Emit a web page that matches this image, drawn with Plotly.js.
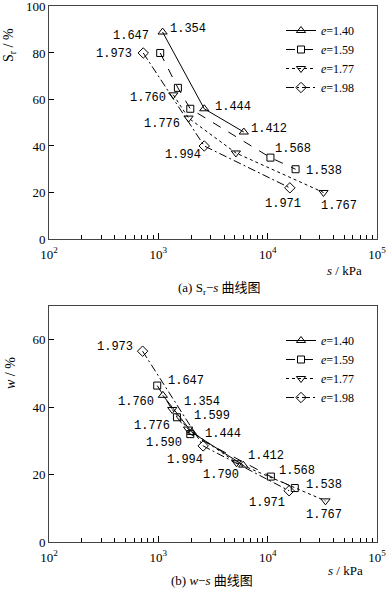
<!DOCTYPE html>
<html>
<head>
<meta charset="utf-8">
<script src="https://cdn.plot.ly/plotly-3.0.1.min.js"></script>
<style>html,body{margin:0;padding:0;background:#fff;}#chart{width:389px;height:592px;}</style>
</head>
<body>
<div id="chart"></div>
<script>
// ---------- data (a) Sr - s ----------
var seriesNames = ['<i>e</i>=1.40', '<i>e</i>=1.59', '<i>e</i>=1.77', '<i>e</i>=1.98'];

var sA_140 = [1094, 2630, 6050];
var Sr_140 = [89, 56, 46];
var sA_159 = [1040, 1510, 1960, 10600, 18000];
var Sr_159 = [80, 65, 56, 35, 30];
var sA_177 = [1370, 1890, 5120, 32400];
var Sr_177 = [62, 52, 37, 20];
var sA_198 = [728, 2630, 15950];
var Sr_198 = [80, 40, 22];

var labA_140 = ['1.354', '1.444', '1.412'];
var labA_159 = ['1.647', '', '', '1.568', '1.538'];
var labA_177 = ['1.760', '1.776', '', '1.767'];
var labA_198 = ['1.973', '1.994', '1.971'];

// ---------- data (b) w - s ----------
var sB_140 = [1100, 2030, 5970];
var w_140 = [43.5, 32.5, 22.8];
var sB_159 = [977, 1480, 1960, 10700, 17700];
var w_159 = [46.4, 37.0, 32.0, 19.4, 16.0];
var sB_177 = [1340, 1870, 5200, 33800];
var w_177 = [39.3, 33.5, 23.5, 12.2];
var sB_198 = [718, 2570, 15700];
var w_198 = [56.6, 28.5, 15.2];

var labB_140 = ['1.354', '1.444', '1.412'];
var labB_159 = ['1.647', '1.599', '1.590', '1.568', '1.538'];
var labB_177 = ['1.760', '1.776', '1.790', '1.767'];
var labB_198 = ['1.973', '1.994', '1.971'];

// tick labels
var xTickVals = [100, 1000, 10000, 100000];
var xTickText = ['10<sup>2</sup>', '10<sup>3</sup>', '10<sup>4</sup>', '10<sup>5</sup>'];
var yTickValsA = [0, 20, 40, 60, 80, 100];
var yTickValsB = [0, 20, 40, 60];

// ---------- label placement (pixels) ----------
// [xshift, yshift, xanchor]
var posA_140 = [[5, 3, 'left'], [9, 2, 'left'], [5, 3, 'left']];
var posA_159 = [[-9, 17, 'right'], null, null, [3, 9, 'left'], [8, -2, 'left']];
var posA_177 = [[-5, -3, 'right'], [-7, -6, 'right'], null, [16, -14, 'center']];
var posA_198 = [[-9, -1, 'right'], [-1, -9, 'right'], [-7, -16, 'center']];

var posB_140 = [[19, -7, 'left'], [11, -2, 'left'], [3, 9, 'left']];
var posB_159 = [[9, 5, 'left'], [15, 1, 'left'], [-6, -9, 'right'], [6, 6, 'left'], [9, 3, 'left']];
var posB_177 = [[-16, 8, 'right'], [-16, 3, 'right'], [4, -12, 'right'], [-1, -14, 'center']];
var posB_198 = [[-8, 4, 'right'], [2, -14, 'right'], [-2, -12, 'right']];

// ---------- styles ----------
var dashes = ['solid', 'dash', 'dot', '8px,3px,2px,3px'];
var symbols = ['triangle-up-open', 'square-open', 'triangle-down-open', 'diamond-open'];
var msizes = [8, 7, 8, 8];
var numFont = {family: 'Liberation Mono, monospace', size: 12, color: '#000'};

function mk(xs, ys, i, xa, ya, lg) {
  return {
    x: xs, y: ys, type: 'scatter', mode: 'lines+markers',
    name: seriesNames[i], xaxis: xa, yaxis: ya, legend: lg,
    line: {color: '#000', width: 1, dash: dashes[i]},
    marker: {symbol: symbols[i], size: msizes[i], color: '#000', line: {color: '#000', width: 1}}
  };
}

var traces = [
  mk(sA_140, Sr_140, 0, 'x', 'y', 'legend'),
  mk(sA_159, Sr_159, 1, 'x', 'y', 'legend'),
  mk(sA_177, Sr_177, 2, 'x', 'y', 'legend'),
  mk(sA_198, Sr_198, 3, 'x', 'y', 'legend'),
  mk(sB_140, w_140, 0, 'x2', 'y2', 'legend2'),
  mk(sB_159, w_159, 1, 'x2', 'y2', 'legend2'),
  mk(sB_177, w_177, 2, 'x2', 'y2', 'legend2'),
  mk(sB_198, w_198, 3, 'x2', 'y2', 'legend2')
];

var annotations = [];
function addLabels(xs, ys, labs, pos, xr, yr) {
  for (var k = 0; k < xs.length; k++) {
    if (!labs[k] || !pos[k]) continue;
    annotations.push({
      x: Math.log10(xs[k]), y: ys[k], xref: xr, yref: yr, text: labs[k],
      showarrow: false, xanchor: pos[k][2], yanchor: 'middle',
      xshift: pos[k][0], yshift: pos[k][1], font: numFont
    });
  }
}
addLabels(sA_140, Sr_140, labA_140, posA_140, 'x', 'y');
addLabels(sA_159, Sr_159, labA_159, posA_159, 'x', 'y');
addLabels(sA_177, Sr_177, labA_177, posA_177, 'x', 'y');
addLabels(sA_198, Sr_198, labA_198, posA_198, 'x', 'y');
addLabels(sB_140, w_140, labB_140, posB_140, 'x2', 'y2');
addLabels(sB_159, w_159, labB_159, posB_159, 'x2', 'y2');
addLabels(sB_177, w_177, labB_177, posB_177, 'x2', 'y2');
addLabels(sB_198, w_198, labB_198, posB_198, 'x2', 'y2');

var serif = 'Liberation Serif, DejaVu Serif, serif';
var cjk = 'Liberation Serif, Noto Sans CJK SC, serif';

// axis titles and captions
annotations.push(
  {xref: 'paper', yref: 'paper', x: 10 / 389, y: 1 - 45 / 592, text: 'S<sub>r</sub> / %', textangle: -90,
   showarrow: false, xanchor: 'center', yanchor: 'middle', font: {family: serif, size: 14, color: '#000'}},
  {xref: 'paper', yref: 'paper', x: 10 / 389, y: 1 - 373 / 592, text: '<i>w</i> / %', textangle: -90,
   showarrow: false, xanchor: 'center', yanchor: 'middle', font: {family: serif, size: 14, color: '#000'}},
  {xref: 'paper', yref: 'paper', x: 344 / 389, y: 1 - 270 / 592, text: '<i>s</i> / kPa',
   showarrow: false, xanchor: 'center', yanchor: 'middle', font: {family: serif, size: 13, color: '#000'}},
  {xref: 'paper', yref: 'paper', x: 345 / 389, y: 1 - 570 / 592, text: '<i>s</i> / kPa',
   showarrow: false, xanchor: 'center', yanchor: 'middle', font: {family: serif, size: 13, color: '#000'}},
  {xref: 'paper', yref: 'paper', x: 219 / 389, y: 1 - 288 / 592, text: '(a) S<sub>r</sub>−<i>s</i> 曲线图',
   showarrow: false, xanchor: 'center', yanchor: 'middle', font: {family: cjk, size: 13, color: '#000'}},
  {xref: 'paper', yref: 'paper', x: 212 / 389, y: 2 / 592, text: '(b) <i>w</i>−<i>s</i> 曲线图',
   showarrow: false, xanchor: 'center', yanchor: 'bottom', font: {family: cjk, size: 13, color: '#000'}}
);

var minorVals = [];
for (var d = 100; d < 100000; d *= 10) {
  for (var m = 2; m <= 9; m++) minorVals.push(d * m);
}

function xAxis(dom, anchor) {
  return {
    type: 'log', range: [2, 5], domain: dom, anchor: anchor,
    tickmode: 'array', tickvals: xTickVals, ticktext: xTickText,
    ticks: 'inside', ticklen: 6, tickcolor: '#000', tickwidth: 1, ticklabelstandoff: 3,
    minor: {tickmode: 'array', tickvals: minorVals, ticks: 'inside', ticklen: 4, tickcolor: '#000', showgrid: false},
    showline: true, mirror: true, linecolor: '#444', linewidth: 1,
    showgrid: false, zeroline: false,
    tickfont: {family: serif, size: 13, color: '#000'}
  };
}
function yAxis(dom, anchor, rng, tv) {
  return {
    range: rng, domain: dom, anchor: anchor, tickmode: 'array', tickvals: tv,
    ticks: 'inside', ticklen: 5, tickcolor: '#000', tickwidth: 1,
    showline: true, mirror: true, linecolor: '#444', linewidth: 1,
    showgrid: false, zeroline: false, ticklabeloverflow: 'allow',
    tickfont: {family: serif, size: 13, color: '#000'}
  };
}

var xd = [49 / 389, 377 / 389];
var legFont = {family: serif, size: 12, color: '#000'};

var layout = {
  width: 389, height: 592,
  margin: {l: 0, r: 0, t: 0, b: 0},
  paper_bgcolor: '#fff', plot_bgcolor: '#fff',
  showlegend: true,
  xaxis: xAxis(xd, 'y'),
  yaxis: yAxis([353 / 592, 586 / 592], 'x', [0, 100.2], yTickValsA),
  xaxis2: xAxis(xd, 'y2'),
  yaxis2: yAxis([50 / 592, 286 / 592], 'x2', [0, 70], yTickValsB),
  legend: {x: 281 / 389, y: 1 - 16 / 592, xanchor: 'left', yanchor: 'top', bgcolor: 'rgba(0,0,0,0)',
           font: legFont, tracegroupgap: 0, itemwidth: 30},
  legend2: {x: 281 / 389, y: 1 - 326 / 592, xanchor: 'left', yanchor: 'top', bgcolor: 'rgba(0,0,0,0)',
            font: legFont, tracegroupgap: 0, itemwidth: 30},
  annotations: annotations
};

Plotly.newPlot('chart', traces, layout, {staticPlot: true, displayModeBar: false});
</script>
</body>
</html>
